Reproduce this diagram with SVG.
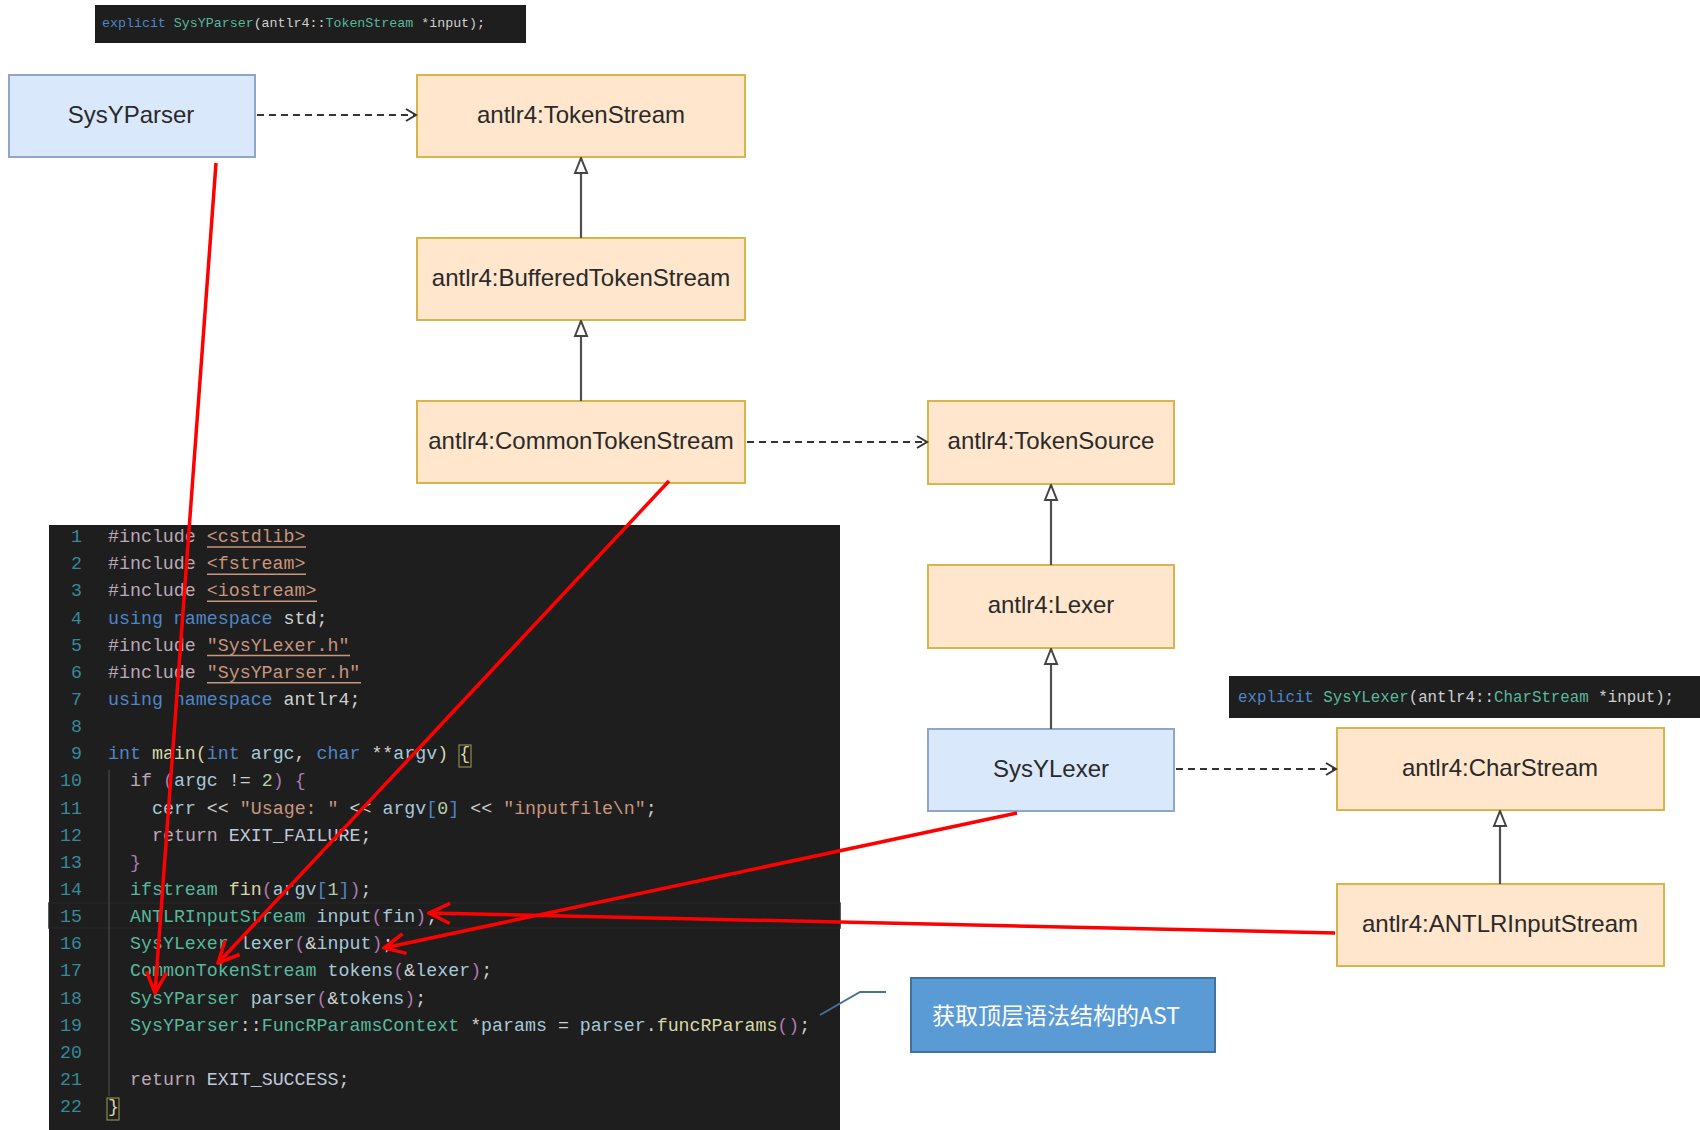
<svg xmlns="http://www.w3.org/2000/svg" width="1700" height="1130" viewBox="0 0 1700 1130">
<style>
.bg{fill:#ffffff}
.orange{fill:#ffe6cc;stroke:#d9b44a;stroke-width:2}
.blue{fill:#dae8fc;stroke:#8fa6c8;stroke-width:2}
.lbl{font-family:"Liberation Sans",Arial,sans-serif;font-size:24px;fill:#2a2a2a;text-anchor:middle}
.dep{fill:none;stroke:#333333;stroke-width:2;stroke-dasharray:7 5}
.inh{fill:none;stroke:#505050;stroke-width:2.2}
.red{fill:none;stroke:#ff0000;stroke-width:3.5}
.code{font-family:"Liberation Mono","DejaVu Sans Mono",monospace;font-size:18.3px;fill:#d0d0d0;white-space:pre}
.ln{font-family:"Liberation Mono","DejaVu Sans Mono",monospace;font-size:18.3px;fill:#358a9a;text-anchor:end}
.kp{fill:#bba9b8}
.st{fill:#c8967e}
.kb{fill:#4f86c6}
.ty{fill:#58b89c}
.fn{fill:#d8d8a8}
.vr{fill:#a8c8d8}
.nm{fill:#b5cea8}
.cn{fill:#c0c8dc}
.pu{fill:#b07ab0}
.ul{stroke:#c8967e;stroke-width:1.5}
</style>
<defs>
<marker id="openArrow" viewBox="0 0 14 14" refX="12" refY="7" markerWidth="14" markerHeight="14" markerUnits="userSpaceOnUse" orient="auto">
<path d="M2,1 L12,7 L2,13" fill="none" stroke="#333333" stroke-width="2"/>
</marker>
<marker id="hollowTri" viewBox="0 0 18 16" refX="17" refY="8" markerWidth="18" markerHeight="16" markerUnits="userSpaceOnUse" orient="auto">
<path d="M2,2 L17,8 L2,14 Z" fill="#ffffff" stroke="#444444" stroke-width="2"/>
</marker>
<marker id="redArrow" viewBox="0 0 26 26" refX="24" refY="13" markerWidth="26" markerHeight="26" markerUnits="userSpaceOnUse" orient="auto">
<path d="M3,3 L24,13 L3,23" fill="none" stroke="#ff0000" stroke-width="3.5"/>
</marker>
</defs>
<rect class="bg" x="0" y="0" width="1700" height="1130"/>

<g id="snippet-parser">
<rect x="95" y="5" width="431" height="38" fill="#1e1e1e"/>
<text x="102" y="27" font-family="Liberation Mono,monospace" font-size="13.3" fill="#d0d0d0" style="white-space:pre"><tspan class="kb">explicit</tspan> <tspan class="ty">SysYParser</tspan>(antlr4::<tspan class="ty">TokenStream</tspan> *input);</text>
</g>

<g id="snippet-lexer">
<rect x="1229" y="676" width="471" height="42" fill="#1e1e1e"/>
<text x="1238" y="702" font-family="Liberation Mono,monospace" font-size="15.8" fill="#d0d0d0" style="white-space:pre"><tspan class="kb">explicit</tspan> <tspan class="ty">SysYLexer</tspan>(antlr4::<tspan class="ty">CharStream</tspan> *input);</text>
</g>

<g id="node-sysyparser">
<rect class="blue" x="9" y="75" width="246" height="82"/>
<text class="lbl" x="131" y="123">SysYParser</text>
</g>
<g id="node-tokenstream">
<rect class="orange" x="417" y="75" width="328" height="82"/>
<text class="lbl" x="581" y="123">antlr4:TokenStream</text>
</g>
<g id="node-bufferedtokenstream">
<rect class="orange" x="417" y="238" width="328" height="82"/>
<text class="lbl" x="581" y="286">antlr4:BufferedTokenStream</text>
</g>
<g id="node-commontokenstream">
<rect class="orange" x="417" y="401" width="328" height="82"/>
<text class="lbl" x="581" y="449">antlr4:CommonTokenStream</text>
</g>
<g id="node-tokensource">
<rect class="orange" x="928" y="401" width="246" height="83"/>
<text class="lbl" x="1051" y="449">antlr4:TokenSource</text>
</g>
<g id="node-lexer">
<rect class="orange" x="928" y="565" width="246" height="83"/>
<text class="lbl" x="1051" y="613">antlr4:Lexer</text>
</g>
<g id="node-sysylexer">
<rect class="blue" x="928" y="729" width="246" height="82"/>
<text class="lbl" x="1051" y="777">SysYLexer</text>
</g>
<g id="node-charstream">
<rect class="orange" x="1337" y="728" width="327" height="82"/>
<text class="lbl" x="1500" y="776">antlr4:CharStream</text>
</g>
<g id="node-antlrinputstream">
<rect class="orange" x="1337" y="884" width="327" height="82"/>
<text class="lbl" x="1500" y="932">antlr4:ANTLRInputStream</text>
</g>

<g id="code-editor">
<rect x="49" y="525" width="791" height="605" fill="#1e1e1e"/>
<rect x="49" y="903" width="791" height="25" fill="none" stroke="#262626" stroke-width="1.5"/>
<line x1="109" y1="770" x2="109" y2="1096" stroke="#404040" stroke-width="1.5"/>
<g>
<text class="ln" x="82" y="542">1</text>
<text class="ln" x="82" y="569.2">2</text>
<text class="ln" x="82" y="596.3">3</text>
<text class="ln" x="82" y="623.5">4</text>
<text class="ln" x="82" y="650.6">5</text>
<text class="ln" x="82" y="677.8">6</text>
<text class="ln" x="82" y="704.9">7</text>
<text class="ln" x="82" y="732.1">8</text>
<text class="ln" x="82" y="759.2">9</text>
<text class="ln" x="82" y="786.4">10</text>
<text class="ln" x="82" y="813.5">11</text>
<text class="ln" x="82" y="840.7">12</text>
<text class="ln" x="82" y="867.8">13</text>
<text class="ln" x="82" y="895">14</text>
<text class="ln" x="82" y="922.1">15</text>
<text class="ln" x="82" y="949.3">16</text>
<text class="ln" x="82" y="976.4">17</text>
<text class="ln" x="82" y="1003.6">18</text>
<text class="ln" x="82" y="1030.7">19</text>
<text class="ln" x="82" y="1057.9">20</text>
<text class="ln" x="82" y="1085">21</text>
<text class="ln" x="82" y="1112.2">22</text>
</g>
<line class="ul" x1="207" y1="547" x2="306" y2="547"/>
<line class="ul" x1="207" y1="574.2" x2="306" y2="574.2"/>
<line class="ul" x1="207" y1="601.3" x2="317" y2="601.3"/>
<line class="ul" x1="207" y1="655.6" x2="350" y2="655.6"/>
<line class="ul" x1="207" y1="682.8" x2="361" y2="682.8"/>
<rect x="459" y="745" width="12" height="22" fill="none" stroke="#8a8a4a" stroke-width="1.2"/>
<rect x="107" y="1098" width="12" height="22" fill="none" stroke="#8a8a4a" stroke-width="1.2"/>
<text class="code" x="108" y="542"><tspan class="kp">#include</tspan> <tspan class="st">&lt;cstdlib&gt;</tspan></text>
<text class="code" x="108" y="569.2"><tspan class="kp">#include</tspan> <tspan class="st">&lt;fstream&gt;</tspan></text>
<text class="code" x="108" y="596.3"><tspan class="kp">#include</tspan> <tspan class="st">&lt;iostream&gt;</tspan></text>
<text class="code" x="108" y="623.5"><tspan class="kb">using</tspan> <tspan class="kb">namespace</tspan> std;</text>
<text class="code" x="108" y="650.6"><tspan class="kp">#include</tspan> <tspan class="st">"SysYLexer.h"</tspan></text>
<text class="code" x="108" y="677.8"><tspan class="kp">#include</tspan> <tspan class="st">"SysYParser.h"</tspan></text>
<text class="code" x="108" y="704.9"><tspan class="kb">using</tspan> <tspan class="kb">namespace</tspan> antlr4;</text>
<text class="code" x="108" y="759.2"><tspan class="kb">int</tspan> <tspan class="fn">main</tspan><tspan class="fn">(</tspan><tspan class="kb">int</tspan> <tspan class="vr">argc</tspan>, <tspan class="kb">char</tspan> **<tspan class="vr">argv</tspan><tspan class="fn">)</tspan> <tspan class="fn">{</tspan></text>
<text class="code" x="130" y="786.4"><tspan class="kp">if</tspan> <tspan class="pu">(</tspan><tspan class="vr">argc</tspan> != <tspan class="nm">2</tspan><tspan class="pu">)</tspan> <tspan class="pu">{</tspan></text>
<text class="code" x="152" y="813.5"><tspan class="vr">cerr</tspan> &lt;&lt; <tspan class="st">"Usage: "</tspan> &lt;&lt; <tspan class="vr">argv</tspan><tspan class="kb">[</tspan><tspan class="nm">0</tspan><tspan class="kb">]</tspan> &lt;&lt; <tspan class="st">"inputfile\n"</tspan>;</text>
<text class="code" x="152" y="840.7"><tspan class="kp">return</tspan> <tspan class="cn">EXIT_FAILURE</tspan>;</text>
<text class="code" x="130" y="867.8"><tspan class="pu">}</tspan></text>
<text class="code" x="130" y="895"><tspan class="ty">ifstream</tspan> <tspan class="fn">fin</tspan><tspan class="pu">(</tspan><tspan class="vr">argv</tspan><tspan class="kb">[</tspan><tspan class="nm">1</tspan><tspan class="kb">]</tspan><tspan class="pu">)</tspan>;</text>
<text class="code" x="130" y="922.1"><tspan class="ty">ANTLRInputStream</tspan> <tspan class="vr">input</tspan><tspan class="pu">(</tspan><tspan class="vr">fin</tspan><tspan class="pu">)</tspan>;</text>
<text class="code" x="130" y="949.3"><tspan class="ty">SysYLexer</tspan> <tspan class="vr">lexer</tspan><tspan class="pu">(</tspan>&amp;<tspan class="vr">input</tspan><tspan class="pu">)</tspan>;</text>
<text class="code" x="130" y="976.4"><tspan class="ty">CommonTokenStream</tspan> <tspan class="vr">tokens</tspan><tspan class="pu">(</tspan>&amp;<tspan class="vr">lexer</tspan><tspan class="pu">)</tspan>;</text>
<text class="code" x="130" y="1003.6"><tspan class="ty">SysYParser</tspan> <tspan class="vr">parser</tspan><tspan class="pu">(</tspan>&amp;<tspan class="vr">tokens</tspan><tspan class="pu">)</tspan>;</text>
<text class="code" x="130" y="1030.7"><tspan class="ty">SysYParser</tspan>::<tspan class="ty">FuncRParamsContext</tspan> *<tspan class="vr">params</tspan> = <tspan class="vr">parser</tspan>.<tspan class="fn">funcRParams</tspan><tspan class="pu">()</tspan>;</text>
<text class="code" x="130" y="1085"><tspan class="kp">return</tspan> <tspan class="cn">EXIT_SUCCESS</tspan>;</text>
<text class="code" x="108" y="1112.2"><tspan class="fn">}</tspan></text>
</g>

<g id="callout-ast">
<rect x="911" y="978" width="304" height="74" fill="#5b9bd5" stroke="#41719c" stroke-width="2"/>
<text x="932" y="1024" font-family="'Noto Sans CJK SC',sans-serif" font-size="23" fill="#ffffff">获取顶层语法结构的AST</text>
</g>

<g id="connectors">
<line class="dep" x1="257" y1="115" x2="416" y2="115" marker-end="url(#openArrow)"/>
<line class="inh" x1="581" y1="238" x2="581" y2="158" marker-end="url(#hollowTri)"/>
<line class="inh" x1="581" y1="401" x2="581" y2="321" marker-end="url(#hollowTri)"/>
<line class="dep" x1="747" y1="442" x2="927" y2="442" marker-end="url(#openArrow)"/>
<line class="inh" x1="1051" y1="565" x2="1051" y2="485" marker-end="url(#hollowTri)"/>
<line class="inh" x1="1051" y1="729" x2="1051" y2="649" marker-end="url(#hollowTri)"/>
<line class="dep" x1="1176" y1="769" x2="1336" y2="769" marker-end="url(#openArrow)"/>
<line class="inh" x1="1500" y1="884" x2="1500" y2="811" marker-end="url(#hollowTri)"/>
<polyline points="820,1015 860,992 886,992" fill="none" stroke="#41719c" stroke-width="2"/>
<line class="red" x1="216" y1="163" x2="155" y2="993" marker-end="url(#redArrow)"/>
<line class="red" x1="669" y1="481" x2="218" y2="963" marker-end="url(#redArrow)"/>
<line class="red" x1="1017" y1="813" x2="384" y2="948" marker-end="url(#redArrow)"/>
<line class="red" x1="1335" y1="933" x2="429" y2="913" marker-end="url(#redArrow)"/>
</g>
</svg>
